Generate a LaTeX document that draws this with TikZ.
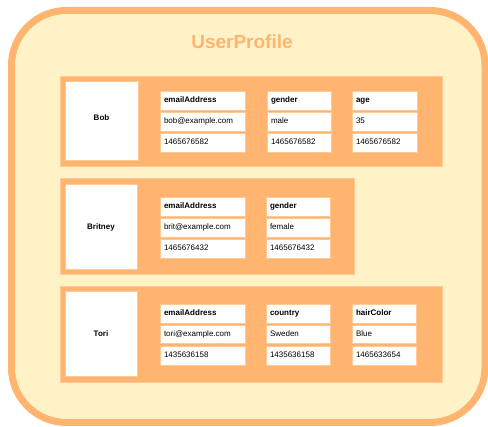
\documentclass[tikz,border=0pt]{standalone}
\usepackage{fontspec}
\setmainfont{Liberation Sans}
\begin{document}
\begin{tikzpicture}[x=1pt,y=-1pt,
  every node/.style={inner sep=0pt, outer sep=0pt},
  outerbox/.style={draw=orangeA, fill=yellowA, line width=7pt, rounded corners=55pt},
  rowbox/.style={draw=orangeB, fill=orangeA, line width=0.8pt},
  namebox/.style={draw=orangeB, fill=white, line width=0.6pt},
  cell/.style={draw=orangeB, fill=white, line width=0.6pt},
  nametxt/.style={font=\fontsize{8}{9}\selectfont\bfseries, text height=6pt, text depth=1.7pt},
  txt/.style={anchor=west, font=\fontsize{8}{9}\selectfont, text height=6pt, text depth=1.7pt},
  htxt/.style={anchor=west, font=\fontsize{8}{9}\selectfont\bfseries, text height=6pt, text depth=1.7pt}
]
\definecolor{orangeA}{HTML}{FFB570}
\definecolor{orangeB}{HTML}{FFC895}
\definecolor{yellowA}{HTML}{FFF2C6}
\useasboundingbox (0,0) rectangle (488,427);
\draw[outerbox] (11.5,10.5) rectangle (485,422.5);
\node[font=\fontsize{19}{22}\selectfont\bfseries, text=orangeA] (title) at (242,42) {UserProfile};

% rows
\draw[rowbox] (60,76) rectangle (442,166);
\draw[rowbox] (60,178) rectangle (354,274);
\draw[rowbox] (60,286) rectangle (442,382);

% name boxes
\draw[namebox] (65,81) rectangle (138,160);
\node[nametxt] (bob) at (101.5,118) {Bob};
\draw[namebox] (65,184) rectangle (137,269);
\node[nametxt] (britney) at (101,227) {Britney};
\draw[namebox] (65,291) rectangle (137,376);
\node[nametxt] (tori) at (101,334) {Tori};

% Bob
\foreach \xa/\xb/\h/\v/\t/\nm in {160/245/emailAddress/bob@example.com/1465676582/be,
  267/331/gender/male/1465676582/bg, 352/417/age/35/1465676582/ba}{
  \draw[cell] (\xa,91) rectangle (\xb,110);
  \draw[cell] (\xa,112.5) rectangle (\xb,131);
  \draw[cell] (\xa,133.5) rectangle (\xb,152);
  \node[htxt] (\nm h) at (\xa+4,100.5) {\h};
  \node[txt] (\nm v) at (\xa+4,121.5) {\v};
  \node[txt] (\nm t) at (\xa+4,142.5) {\t};
}
% Britney
\foreach \xa/\xb/\h/\v/\t/\nm in {160/245/emailAddress/brit@example.com/1465676432/re,
  266/330/gender/female/1465676432/rg}{
  \draw[cell] (\xa,197) rectangle (\xb,216);
  \draw[cell] (\xa,218) rectangle (\xb,237);
  \draw[cell] (\xa,239) rectangle (\xb,258);
  \node[htxt] (\nm h) at (\xa+4,206.5) {\h};
  \node[txt] (\nm v) at (\xa+4,227.5) {\v};
  \node[txt] (\nm t) at (\xa+4,248.5) {\t};
}
% Tori
\foreach \xa/\xb/\h/\v/\t/\nm in {160/245/emailAddress/tori@example.com/1435636158/te,
  266/330/country/Sweden/1435636158/tc, 352/416/hairColor/Blue/1465633654/th}{
  \draw[cell] (\xa,304) rectangle (\xb,323);
  \draw[cell] (\xa,325) rectangle (\xb,343.5);
  \draw[cell] (\xa,346) rectangle (\xb,365);
  \node[htxt] (\nm h) at (\xa+4,313.5) {\h};
  \node[txt] (\nm v) at (\xa+4,334.5) {\v};
  \node[txt] (\nm t) at (\xa+4,355.5) {\t};
}
\end{tikzpicture}
\end{document}
